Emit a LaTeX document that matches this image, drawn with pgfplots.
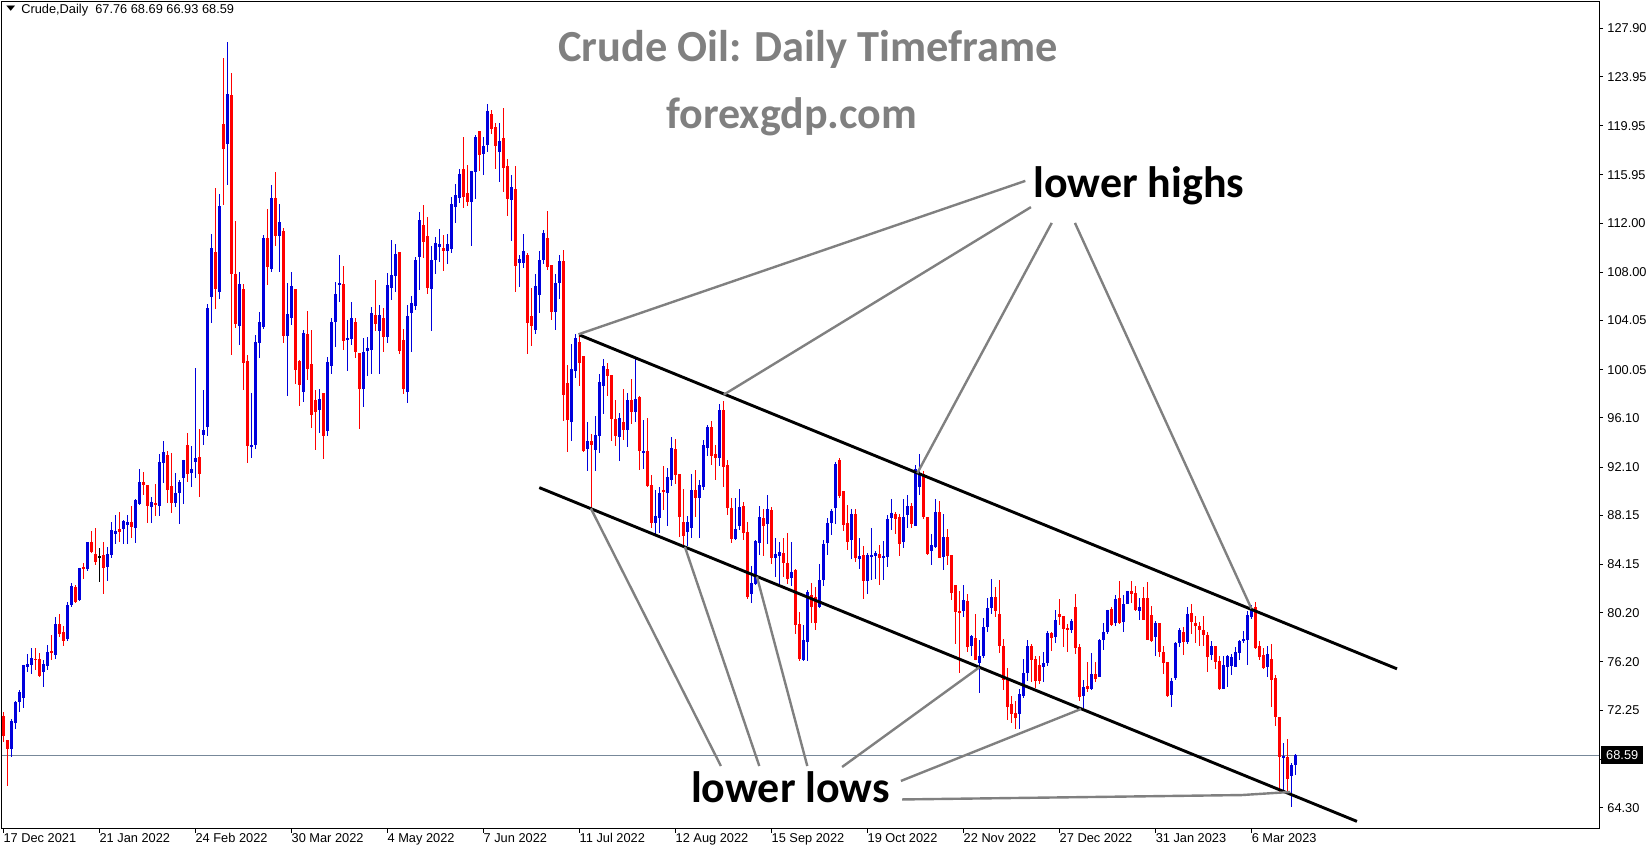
\documentclass[border=0pt]{standalone}
\usepackage{fontspec}
\usepackage{graphicx}
\usepackage{pgfplots}
\usepackage{pgfplotstable}
\pgfplotsset{compat=1.18}
\setmainfont{Liberation Sans}
\newfontfamily\carlito{Carlito}
\newfontfamily\dejavu{DejaVu Sans}
\definecolor{bull}{RGB}{0,0,220}
\definecolor{bear}{RGB}{255,0,0}
\definecolor{pline}{RGB}{119,136,153}
\definecolor{anno}{RGB}{128,128,128}

\pgfplotstableread{
i o h l c
0 71.78 72.11 69.69 70.15
1 69.82 69.82 66.10 69.09
2 69.09 71.54 68.46 71.38
3 71.24 73.00 70.75 72.95
4 72.95 73.90 72.14 73.74
5 73.28 75.95 72.46 75.95
6 75.81 76.84 75.37 76.05
7 75.97 77.33 75.21 76.52
8 76.46 77.33 75.54 76.38
9 76.43 76.92 74.94 75.05
10 75.37 76.35 74.18 76.03
11 75.86 77.58 75.54 77.01
12 77.12 78.39 76.35 76.95
13 76.79 79.89 76.46 79.29
14 79.29 80.11 78.20 78.48
15 78.64 79.13 77.50 77.93
16 78.07 81.11 77.93 80.84
17 80.84 82.64 80.71 82.39
18 82.31 82.47 81.03 81.09
19 81.25 83.86 81.17 83.86
20 83.94 84.24 82.99 83.81
21 83.81 85.98 83.64 85.98
22 85.98 86.88 85.11 85.17
23 85.00 87.13 84.13 84.38
24 84.76 85.47 82.75 84.76
25 84.92 85.98 81.77 83.89
26 83.97 85.58 82.83 85.00
27 84.95 87.64 84.70 86.96
28 86.66 88.19 85.85 86.88
29 87.04 88.43 86.01 86.83
30 87.07 87.78 85.85 87.70
31 87.40 88.19 85.85 87.62
32 87.62 88.92 86.34 87.21
33 87.15 89.49 85.93 89.41
34 89.08 91.91 89.00 90.88
35 90.88 91.70 89.79 90.66
36 90.64 90.64 87.56 88.95
37 88.87 89.63 87.56 89.22
38 89.17 90.72 88.13 89.03
39 88.95 93.17 88.13 92.51
40 92.46 94.23 90.77 93.33
41 93.08 93.41 89.14 90.25
42 90.56 93.28 88.32 89.14
43 89.19 91.64 88.87 89.96
44 89.96 91.05 87.43 90.85
45 91.18 92.68 89.06 92.68
46 93.90 94.85 90.91 91.51
47 91.59 93.82 90.50 91.92
48 92.49 100.16 91.18 92.84
49 92.95 95.18 89.69 91.51
50 94.75 98.39 93.90 95.13
51 95.34 105.41 94.66 105.06
52 105.95 111.12 103.89 109.95
53 109.65 114.87 104.97 106.63
54 106.41 114.39 105.84 113.41
55 120.10 125.49 113.49 118.06
56 118.47 126.79 115.12 122.55
57 122.47 124.29 101.25 107.86
58 107.86 112.18 103.42 103.78
59 103.61 108.02 102.06 107.04
60 106.63 107.04 98.39 100.62
61 100.76 101.25 92.46 93.82
62 93.76 98.17 92.87 93.93
63 93.93 102.88 93.55 102.31
64 102.20 104.76 101.03 103.94
65 103.56 111.07 103.37 110.82
66 110.82 113.16 106.96 108.46
67 108.29 115.12 108.05 114.06
68 114.06 116.18 110.14 110.99
69 110.99 113.57 108.05 112.10
70 111.37 111.61 102.25 102.82
71 102.82 107.12 97.93 104.59
72 104.29 108.02 103.72 106.88
73 106.63 106.63 98.88 100.02
74 100.76 100.84 97.11 98.80
75 98.25 103.29 97.44 103.07
76 102.96 104.84 99.21 100.10
77 100.51 103.29 95.32 96.38
78 97.57 98.39 93.49 96.62
79 96.76 98.47 94.88 97.65
80 98.14 98.14 92.79 94.66
81 95.04 101.11 94.64 100.68
82 100.35 104.27 99.70 103.94
83 103.94 107.23 101.92 106.22
84 106.98 109.43 105.60 107.15
85 107.04 108.51 101.65 102.41
86 102.47 104.10 99.94 102.66
87 102.58 105.57 102.06 104.26
88 103.94 104.23 101.03 101.51
89 101.41 101.41 95.23 98.47
90 98.47 102.63 97.03 101.49
91 101.60 102.71 99.53 101.81
92 101.65 105.16 99.69 104.67
93 104.51 107.36 103.20 103.77
94 103.20 105.32 99.69 104.51
95 104.26 105.05 101.49 102.71
96 102.71 107.96 102.22 106.96
97 106.71 110.63 105.73 107.77
98 107.69 110.30 106.38 109.51
99 109.65 109.65 101.33 101.57
100 102.47 103.37 98.06 98.47
101 98.22 105.32 97.33 104.43
102 104.67 106.06 101.49 105.49
103 105.24 109.24 104.92 108.98
104 109.27 112.91 106.55 112.26
105 111.85 113.48 109.16 110.47
106 110.95 112.51 106.22 106.71
107 106.63 110.14 103.20 109.00
108 108.98 110.87 107.85 110.38
109 110.06 111.53 108.83 110.30
110 109.98 111.04 108.10 109.73
111 109.73 111.12 108.67 110.30
112 109.89 114.14 109.57 113.57
113 113.32 115.20 112.02 114.30
114 114.08 116.42 113.68 116.01
115 116.42 119.03 113.24 114.14
116 114.46 116.75 113.40 113.73
117 113.73 116.26 110.14 116.26
118 116.18 119.20 113.97 119.03
119 119.52 119.52 116.26 117.57
120 117.65 119.03 115.93 118.30
121 118.38 121.73 117.81 121.16
122 120.91 121.24 119.28 119.69
123 119.85 120.18 116.42 118.30
124 117.81 120.18 115.36 118.71
125 118.95 121.40 114.55 116.50
126 116.67 117.24 112.59 113.97
127 113.89 115.93 110.55 114.95
128 114.79 116.67 106.38 108.51
129 108.75 109.40 106.79 109.08
130 108.75 111.12 108.34 109.73
131 109.40 109.57 101.33 103.86
132 104.43 106.71 101.98 103.61
133 103.28 107.85 102.96 106.88
134 106.14 109.73 104.67 108.98
135 108.98 111.45 108.67 111.20
136 110.79 112.99 108.18 108.43
137 108.59 108.59 104.10 104.75
138 104.75 107.85 103.28 107.12
139 107.12 109.40 105.81 108.92
140 108.92 109.81 95.86 97.98
141 98.96 100.43 93.33 95.94
142 95.78 102.14 94.22 100.10
143 99.94 102.96 99.37 102.63
144 102.31 102.96 98.71 100.59
145 101.16 101.16 93.33 93.41
146 93.57 95.78 91.78 94.22
147 94.22 94.80 88.60 93.90
148 93.49 96.27 91.78 94.71
149 94.63 99.69 93.25 99.04
150 98.71 100.92 96.43 100.35
151 100.10 100.59 97.90 99.53
152 99.61 99.61 94.22 96.02
153 96.02 97.57 93.82 94.63
154 94.55 96.51 92.59 96.10
155 95.78 98.47 94.31 95.12
156 95.12 98.14 93.74 97.57
157 97.57 99.29 95.61 96.59
158 96.59 101.00 95.78 97.65
159 97.82 97.90 91.86 93.41
160 93.25 95.94 91.94 93.41
161 93.41 96.10 90.47 90.55
162 90.63 91.45 87.15 87.53
163 87.53 90.23 86.55 88.10
164 87.91 90.47 86.71 89.98
165 90.23 92.19 88.60 90.06
166 89.98 92.02 87.29 91.28
167 91.04 94.55 90.55 93.65
168 93.57 94.39 90.71 91.45
169 91.53 91.53 86.39 88.02
170 87.61 90.30 85.57 86.47
171 86.80 88.10 85.65 87.61
172 87.12 91.53 86.31 90.22
173 90.22 91.88 88.02 89.57
174 89.57 91.04 86.31 90.63
175 90.47 94.30 90.22 93.90
176 93.65 95.53 92.98 95.36
177 95.36 95.85 92.26 92.98
178 93.16 93.90 91.04 92.83
179 92.83 97.24 92.18 96.75
180 96.75 97.49 90.47 92.10
181 92.26 92.67 88.18 88.75
182 88.75 89.57 85.90 86.22
183 86.22 89.57 86.14 87.04
184 87.28 90.30 86.96 88.84
185 88.92 89.24 86.14 86.71
186 86.80 87.61 81.33 81.49
187 81.74 84.02 81.00 82.64
188 82.55 86.14 82.47 86.06
189 85.90 88.92 84.92 88.02
190 87.94 88.67 84.84 87.28
191 87.45 89.81 85.82 88.67
192 88.59 88.84 84.18 84.67
193 84.67 86.31 83.12 85.00
194 84.84 85.98 82.55 85.16
195 85.08 86.31 83.12 84.26
196 84.26 86.71 82.55 82.96
197 83.04 85.98 82.39 83.53
198 83.69 83.78 78.47 79.20
199 79.29 80.27 76.27 76.43
200 76.35 79.20 76.27 77.98
201 77.84 82.06 76.27 81.90
202 81.65 82.63 79.37 80.67
203 81.49 82.31 78.80 79.37
204 80.67 84.18 80.59 82.88
205 82.88 86.14 82.39 85.82
206 85.90 87.94 84.92 87.53
207 87.54 88.68 86.56 88.52
208 88.76 92.51 87.45 92.35
209 92.68 92.84 89.58 89.74
210 90.15 90.15 86.88 87.37
211 87.54 89.01 85.33 85.99
212 86.15 88.68 84.60 88.27
213 88.27 88.68 84.35 84.68
214 84.60 86.31 83.78 84.84
215 84.93 85.66 81.33 82.80
216 82.80 85.09 81.74 84.93
217 84.80 87.13 82.88 84.93
218 84.84 85.25 82.97 85.09
219 85.01 85.74 82.48 84.68
220 84.68 86.07 82.88 84.84
221 84.76 88.19 83.95 87.86
222 87.94 89.50 86.96 88.35
223 88.27 88.43 86.64 87.86
224 88.03 88.27 84.84 85.82
225 85.99 89.50 85.50 88.03
226 88.19 89.82 87.13 88.93
227 88.93 89.17 87.13 87.45
228 87.29 92.27 87.29 91.94
229 90.47 93.17 89.82 91.62
230 91.54 91.78 87.86 88.03
231 88.03 88.03 84.93 85.01
232 85.25 86.64 84.11 85.74
233 85.58 89.50 85.50 88.43
234 88.43 89.33 84.68 84.68
235 84.76 88.27 83.70 86.39
236 86.39 87.05 84.11 84.84
237 84.93 84.93 81.25 81.82
238 82.48 82.48 77.66 80.27
239 80.35 81.99 75.29 80.19
240 80.35 82.48 79.86 81.25
241 81.17 81.74 77.01 77.42
242 77.50 78.40 76.68 78.31
243 78.15 80.11 76.35 76.35
244 76.11 77.99 73.66 76.68
245 76.68 79.78 76.52 79.05
246 79.05 81.42 78.64 80.60
247 80.60 83.00 80.11 81.50
248 81.50 82.31 79.87 80.36
249 80.11 82.89 76.93 77.50
250 77.50 78.07 73.91 74.72
251 74.72 75.70 71.46 72.52
252 72.77 73.42 71.22 71.95
253 72.03 73.01 70.73 71.62
254 71.95 73.99 70.73 73.58
255 73.42 76.44 73.26 75.30
256 75.30 77.99 74.64 77.50
257 77.50 77.66 74.56 76.36
258 76.44 76.68 74.07 74.64
259 75.95 76.68 74.40 74.64
260 75.79 77.01 74.56 76.11
261 76.11 78.72 75.87 78.56
262 78.56 78.64 77.09 78.15
263 78.23 80.44 77.75 79.62
264 80.11 81.34 79.21 79.87
265 79.95 79.95 77.42 78.89
266 78.97 79.29 77.01 78.81
267 78.81 79.70 78.56 79.54
268 80.68 81.74 76.85 77.34
269 77.42 77.66 73.01 73.34
270 73.42 74.72 72.44 74.15
271 74.23 76.19 73.75 73.99
272 73.99 76.93 73.91 75.21
273 75.21 76.19 74.56 74.81
274 74.97 78.07 74.97 77.99
275 77.99 79.38 77.17 78.64
276 78.64 80.44 78.48 80.44
277 80.52 80.68 79.13 79.21
278 79.38 81.66 79.13 81.34
279 81.42 82.80 79.29 79.38
280 79.46 81.66 78.64 80.93
281 80.93 81.99 80.93 81.99
282 81.99 82.80 81.01 81.74
283 81.83 82.40 80.36 80.44
284 80.36 81.42 79.62 80.68
285 81.42 82.31 79.62 79.62
286 81.42 82.72 77.99 77.99
287 80.00 80.76 77.82 77.90
288 78.20 79.53 76.68 79.34
289 79.34 79.34 76.57 77.03
290 77.03 77.49 75.21 76.13
291 76.19 76.19 73.30 73.41
292 73.50 74.86 72.54 74.64
293 74.86 77.85 74.72 77.77
294 77.71 78.94 77.39 78.80
295 78.66 79.02 76.76 77.85
296 77.85 80.70 77.66 80.11
297 80.16 80.89 78.45 79.48
298 79.40 79.94 77.71 79.15
299 79.13 79.48 77.49 78.80
300 78.80 79.94 77.49 78.39
301 78.39 78.66 75.40 76.62
302 76.76 77.90 76.35 77.49
303 77.49 77.49 75.59 76.21
304 76.27 76.68 73.90 73.96
305 73.96 76.68 73.96 75.94
306 75.75 76.76 74.17 76.68
307 75.86 76.84 75.13 76.62
308 75.81 77.44 75.75 77.03
309 76.95 77.98 76.35 77.90
310 77.90 78.74 77.77 78.07
311 77.98 80.38 75.94 80.02
312 79.83 80.84 79.67 80.43
313 80.70 81.11 77.22 77.30
314 77.49 77.90 76.35 76.62
315 76.76 77.30 75.59 75.67
316 75.75 77.49 74.94 76.84
317 76.46 77.66 72.54 74.72
318 74.86 75.13 70.97 71.67
319 71.67 71.72 65.47 68.46
320 68.33 69.55 65.47 68.52
321 68.46 69.88 65.47 66.61
322 66.88 67.92 64.38 67.75
323 67.76 68.69 66.93 68.59
}\crude

\pgfplotsset{
  candle/.style={only marks, mark size=0pt, mark options={draw=none, fill=none}, forget plot,
    error bars/.cd, y dir=both, y explicit, error mark=none,
    error bar style={#1}},
}

\begin{document}
\begin{tikzpicture}
\begin{axis}[
  scale only axis, width=798.5pt, height=413.5pt,
  xmin=-0.3, xmax=398.9, ymin=62.56, ymax=130.05,
  clip=false,
  axis line style={black, line width=0.5pt},
  tick style={black, line width=0.5pt},
  tick align=outside, major tick length=2pt,
  xtick pos=bottom, xticklabel pos=lower,
  ytick pos=right, yticklabel pos=right,
  xtick={0,24,...,312},
  xticklabels={17 Dec 2021, 21 Jan 2022, 24 Feb 2022, 30 Mar 2022, 4 May 2022, 7 Jun 2022, 11 Jul 2022, 12 Aug 2022, 15 Sep 2022, 19 Oct 2022, 22 Nov 2022, 27 Dec 2022, 31 Jan 2023, 6 Mar 2023},
  ytick={64.30,68.25,72.25,76.20,80.20,84.15,88.15,92.10,96.10,100.05,104.05,108.00,112.00,115.95,119.95,123.95,127.90},
  yticklabels={64.30,,72.25,76.20,80.20,84.15,88.15,92.10,96.10,100.05,104.05,108.00,112.00,115.95,119.95,123.95,127.90},
  xticklabel style={anchor=north west, inner sep=0pt, font=\fontsize{6.4}{7}\selectfont},
  yticklabel style={anchor=west, inner sep=0pt, xshift=2pt, font=\fontsize{6.4}{7}\selectfont},
]
% current price line
\addplot[pline, line width=0.5pt, forget plot] coordinates {(-0.3,68.59) (398.9,68.59)};

% wicks
\addplot[candle={bull, line width=0.5pt}]
  table[x=i, y expr={\thisrow{c}>\thisrow{o} ? \thisrow{c} : nan},
        y error plus expr={\thisrow{h}-\thisrow{c}}, y error minus expr={\thisrow{c}-\thisrow{l}}] {\crude};
\addplot[candle={bear, line width=0.5pt}]
  table[x=i, y expr={\thisrow{c}<\thisrow{o} ? \thisrow{c} : nan},
        y error plus expr={\thisrow{h}-\thisrow{c}}, y error minus expr={\thisrow{c}-\thisrow{l}}] {\crude};
\addplot[candle={black, line width=0.5pt}]
  table[x=i, y expr={\thisrow{c}==\thisrow{o} ? \thisrow{c} : nan},
        y error plus expr={\thisrow{h}-\thisrow{c}}, y error minus expr={\thisrow{c}-\thisrow{l}}] {\crude};
% bodies
\addplot[candle={bull, line width=1.5pt}]
  table[x=i, y expr={\thisrow{c}>\thisrow{o} ? (\thisrow{c}+\thisrow{o})/2 : nan},
        y error expr={max(abs(\thisrow{c}-\thisrow{o})/2,0.04)}] {\crude};
\addplot[candle={bear, line width=1.5pt}]
  table[x=i, y expr={\thisrow{c}<\thisrow{o} ? (\thisrow{c}+\thisrow{o})/2 : nan},
        y error expr={max(abs(\thisrow{c}-\thisrow{o})/2,0.04)}] {\crude};
\addplot[candle={black, line width=1.5pt}]
  table[x=i, y expr={\thisrow{c}==\thisrow{o} ? \thisrow{c} : nan},
        y error expr={0.04}] {\crude};

% channel lines
\addplot[black, line width=1.45pt, forget plot] coordinates {(144,102.88) (348.4,75.63)};
\addplot[black, line width=1.45pt, forget plot] coordinates {(134,90.42) (338.4,63.18)};

% annotation pointers
\begin{scope}[anno, line width=1.2pt]
\draw (axis cs:255.5,115.45) -- (axis cs:143.8,102.93);
\draw (axis cs:256.9,113.31) -- (axis cs:180.1,98.0);
\draw (axis cs:262.1,112.02) -- (axis cs:228.5,91.6);
\draw (axis cs:267.9,112.02) -- (axis cs:312.0,80.55);
\draw (axis cs:179.4,67.70) -- (axis cs:146.9,88.72);
\draw (axis cs:189.0,67.70) -- (axis cs:170.4,85.58);
\draw (axis cs:201.0,67.70) -- (axis cs:188.4,83.16);
\draw (axis cs:209.7,67.62) -- (axis cs:244.0,75.75);
\draw (axis cs:224.4,66.48) -- (axis cs:269.4,72.35);
\draw (axis cs:224.7,64.97) -- (axis cs:309.6,65.33) -- (axis cs:321.7,65.58);
\end{scope}

% texts
\node[anchor=base, inner sep=0pt, text=anno, font=\carlito\bfseries\fontsize{22.2}{26}\selectfont]
  at (axis cs:201.2,125.16) {Crude Oil: Daily Timeframe};
\node[anchor=base, inner sep=0pt, text=anno, font=\carlito\bfseries\fontsize{22}{26}\selectfont]
  at (axis cs:197.1,119.69) {forexgdp.com};
\node[anchor=base, inner sep=0pt, text=black, font=\carlito\bfseries\fontsize{22}{26}\selectfont]
  at (axis cs:283.9,114.06) {lower highs};
\node[anchor=base, inner sep=0pt, text=black, font=\carlito\bfseries\fontsize{22}{26}\selectfont]
  at (axis cs:196.8,64.76) {lower lows};

% header
\node[anchor=base west, inner sep=0pt, font=\fontsize{6.4}{7}\selectfont]
  at (axis cs:4.43,129.1) {Crude,Daily\ \ 67.76 68.69 66.93 68.59};
\node[anchor=base west, inner sep=0pt]
  at (axis cs:0.7,129.35) {\scalebox{1}[0.6]{\dejavu\fontsize{5.8}{6}\selectfont ▼}};

% current price box
\node[anchor=west, fill=black, text=white, inner xsep=2.4pt, inner ysep=0pt, minimum height=9pt,
  font=\fontsize{6.4}{7}\selectfont, xshift=1pt] at (axis cs:398.9,68.59) {68.59};
\end{axis}
\pgfresetboundingbox
\useasboundingbox (-1pt,-10.5pt) rectangle (823.5pt,414.5pt);
\end{tikzpicture}
\end{document}
